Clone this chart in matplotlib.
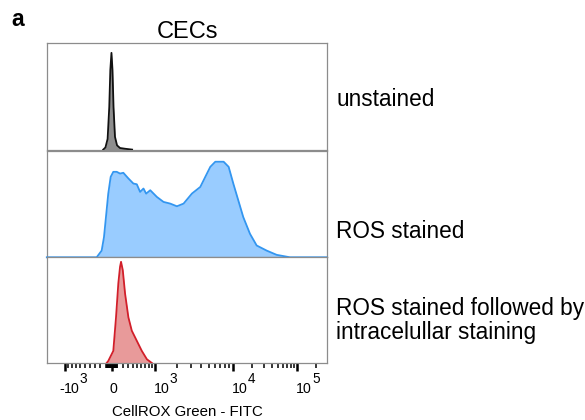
import numpy as np
import matplotlib
matplotlib.use("Agg")
import matplotlib.pyplot as plt
from matplotlib.transforms import blended_transform_factory, offset_copy

plt.rcParams['font.family'] = ['Liberation Sans', 'DejaVu Sans']

# CellROX Green - FITC: valores de fluorescencia y altura (% de la altura del panel)
x_unstained = [-149, -111, -74, -46, -28, -9, 9, 28, 55, 93, 149, 246, 390]
y_unstained = [0, 2, 10, 40, 75, 91, 75, 40, 12, 4, 1.5, 0.8, 0]

x_ros = [-1700, -265, -176, -136, -102, -63, -22, 24, 87, 149, 212, 312, 417, 494,
         573, 658, 730, 848, 1065, 1320, 1628, 1989, 2421, 3095, 3933, 4542, 5239,
         6045, 7661, 8838, 10110, 12100, 14480, 18430, 23460, 33610, 48180, 77750,
         290000]
y_ros = [0, 0, 6.3, 18.9, 37.8, 59.9, 75.7, 80.4, 80.4, 78.8, 79.5, 74.2, 69.4, 68.7,
         61.5, 64.7, 59.9, 63.1, 56.8, 52.1, 50.5, 48.0, 50.5, 60.0, 66.2, 75.7, 85.1,
         89.9, 89.9, 85.1, 69.4, 53.6, 37.8, 22.1, 11.1, 6.3, 2.3, 0, 0]

x_intra = [-90, -63, 24, 74, 117, 149, 168, 201, 246, 312, 383, 494, 615, 751, 898]
y_intra = [0, 1.9, 11.4, 43, 75, 90.5, 95.2, 87.4, 65.2, 43, 30.4, 20.9, 11.4, 3.5, 0]

etiquetas = ["unstained", "ROS stained", "ROS stained followed by\nintracelullar staining"]
major_ticks = [-1000, 0, 1000, 10000, 100000]
major_labels = ["-10^3", "0", "10^3", "10^4", "10^5"]

# escala biexponencial aproximada (arcsinh por tramos, en pixeles)
W = 650.0
anc_v = np.array([-10000, -1000, 0, 1000, 10000, 100000, 1000000])
anc_u = np.arcsinh(anc_v / W)
anc_p = np.array([-20, 65, 112, 155, 233, 297, 361])

def fwd(x):
    return np.interp(np.arcsinh(np.asarray(x, dtype=float) / W), anc_u, anc_p)

def inv(p):
    return W * np.sinh(np.interp(np.asarray(p, dtype=float), anc_p, anc_u))

minor_ticks = ([-v for v in range(100, 1000, 100)] + list(range(100, 1000, 100)) +
               [-v for v in range(10, 100, 10)] + list(range(10, 100, 10)) +
               list(range(2000, 10000, 1000)) + list(range(20000, 100000, 10000)) +
               [200000])

fig = plt.figure(figsize=(5.85, 4.2), dpi=100)

left, width = 47 / 585, 280 / 585
tops = [43.3, 151, 256.7]
h = 106.3
series = [(x_unstained, y_unstained, '#8e8e8e', '#111111'),
          (x_ros, y_ros, '#99ccff', '#3396f0'),
          (x_intra, y_intra, '#e89a9a', '#d21f2a')]
label_y = [100, 231.7, 320.5]

axes = []
for i, (xs, ys, fill, line) in enumerate(series):
    bottom = 1 - (tops[i] + h) / 420
    ax = fig.add_axes([left, bottom, width, h / 420])
    ax.set_xscale('function', functions=(fwd, inv))
    ax.set_xlim(inv(47), inv(327))
    ax.set_ylim(0, 100)
    ax.fill_between(xs, ys, 0, color=fill, lw=0, zorder=2)
    ax.plot(xs, ys, color=line, lw=1.3, zorder=3, clip_on=(i != 1))
    ax.set_yticks([])
    for s in ax.spines.values():
        s.set_color('#8c8c8c')
        s.set_linewidth(0.9)
    fig.text(336 / 585, 1 - label_y[i] / 420, etiquetas[i], fontsize=16.3,
             va='center', ha='left', linespacing=1.0)
    if i < 2:
        ax.set_xticks([])
        ax.set_xticks([], minor=True)
    axes.append(ax)

ax = axes[2]
ax.set_xticks(major_ticks)
ax.set_xticklabels([])
ax.set_xticks(minor_ticks, minor=True)
ax.tick_params(axis='x', which='major', length=6, width=1.8, color='black')
ax.tick_params(axis='x', which='minor', length=3.5, width=1.1, color='black')

# etiquetas de ticks con exponente del mismo tamaño
trans = blended_transform_factory(ax.transData, fig.transFigure)
base_y = 1 - 393.3 / 420
for v, lab in zip(major_ticks, major_labels):
    if '^' not in lab:
        ax.text(v, base_y, lab, transform=offset_copy(trans, fig, x=1, y=0, units='dots'),
                ha='center', va='baseline', fontsize=10.2, clip_on=False)
        continue
    base, expo = lab.split('^')
    if base.startswith('-'):
        ax.text(v, base_y, '-', transform=offset_copy(trans, fig, x=-1, y=0, units='dots'),
                ha='right', va='baseline', fontsize=10.2, clip_on=False)
        base = base[1:]
    ax.text(v, base_y, base, transform=offset_copy(trans, fig, x=-1.5, y=0, units='dots'),
            ha='left', va='baseline', fontsize=10.2, clip_on=False)
    ax.text(v, base_y, expo, transform=offset_copy(trans, fig, x=15, y=10, units='dots'),
            ha='left', va='baseline', fontsize=9.8, clip_on=False)

fig.text(187 / 585, 1 - 411.7 / 420, "CellROX Green - FITC", fontsize=10.8,
         ha='center', va='center')
axes[0].set_title("CECs", fontsize=17, pad=4)
fig.text(11 / 585, 1 - 19 / 420, "a", fontsize=16.5, fontweight='bold', va='center')

fig.savefig("out.png", dpi=100)
